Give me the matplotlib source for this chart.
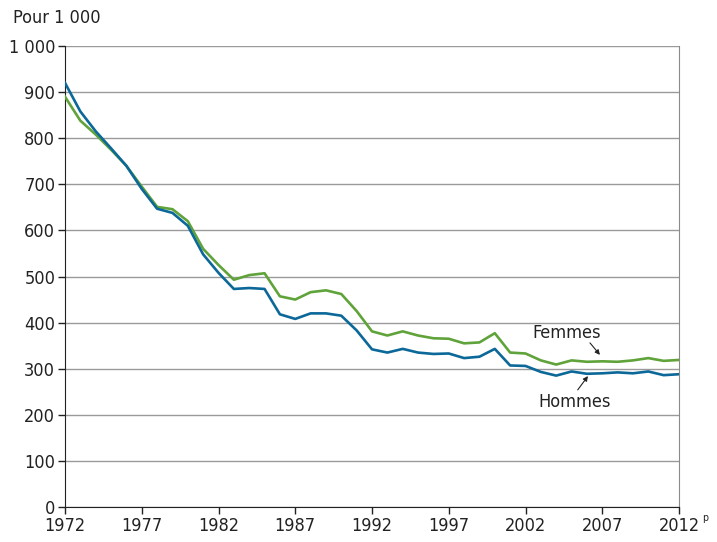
import matplotlib.pyplot as plt
import numpy as np

plt.rcParams['font.family'] = ['DejaVu Sans']
plt.rcParams['font.stretch'] = 'condensed'

years = np.arange(1972, 2013)
hommes = [920, 858, 815, 778, 740, 690, 647, 638, 610, 548, 508, 473, 475, 473,
          418, 408, 420, 420, 415, 383, 342, 335, 343, 335, 332, 333, 323, 326,
          343, 307, 306, 293, 285, 294, 289, 290, 292, 290, 294, 286, 288]
femmes = [890, 838, 808, 775, 740, 695, 651, 646, 620, 560, 525, 493, 503, 507,
          457, 450, 466, 470, 462, 425, 381, 372, 381, 372, 366, 365, 355, 357,
          377, 335, 333, 318, 309, 318, 315, 316, 315, 318, 323, 317, 319]
xticks = list(range(1972, 2013, 5))
yticks = list(range(0, 1001, 100))
ylabels = ['0', '100', '200', '300', '400', '500', '600', '700', '800', '900', '1 000']

fig = plt.figure(figsize=(7.17, 5.42), dpi=100)
ax = fig.add_axes([65 / 717, 35 / 542, 614 / 717, 461 / 542])

ax.plot(years, femmes, color='#5fa33a', lw=1.9, zorder=3)
ax.plot(years, hommes, color='#0b6898', lw=1.9, zorder=4)

ax.set_xlim(1972, 2012)
ax.set_ylim(0, 1000)
ax.set_xticks(xticks)
ax.set_xticklabels([str(x) for x in xticks])
ax.set_yticks(yticks)
ax.set_yticklabels(ylabels)
ax.tick_params(labelsize=13, colors='#222222', length=5, width=1, pad=2)
ax.yaxis.grid(True, color='#9a9a9a', lw=1)
ax.set_axisbelow(True)
for s in ['left', 'bottom']:
    ax.spines[s].set_color('#222222')
ax.spines['top'].set_visible(False)
ax.spines['right'].set_color('#8a8a8a')

# petit "p" (provisoire) après 2012
ax.text(1.043, -0.014, 'p', transform=ax.transAxes, fontsize=7.5,
        ha='center', va='top', color='#222222')
fig.text(13 / 717, 1 - 18 / 542, 'Pour 1 000', fontsize=13, va='center',
         ha='left', color='#222222')

arrow = dict(arrowstyle='-|>', color='#222222', lw=0.8, shrinkA=0, shrinkB=0,
             mutation_scale=7)
ax.text(2004.7, 377, 'Femmes', fontsize=13, ha='center', va='center', color='#222222')
ax.annotate('', xy=(2006.85, 330), xytext=(2006.2, 356), arrowprops=arrow)
ax.text(2005.2, 228, 'Hommes', fontsize=13, ha='center', va='center', color='#222222')
ax.annotate('', xy=(2006.07, 284), xytext=(2005.4, 254), arrowprops=arrow)

fig.savefig('out.png', dpi=100)
